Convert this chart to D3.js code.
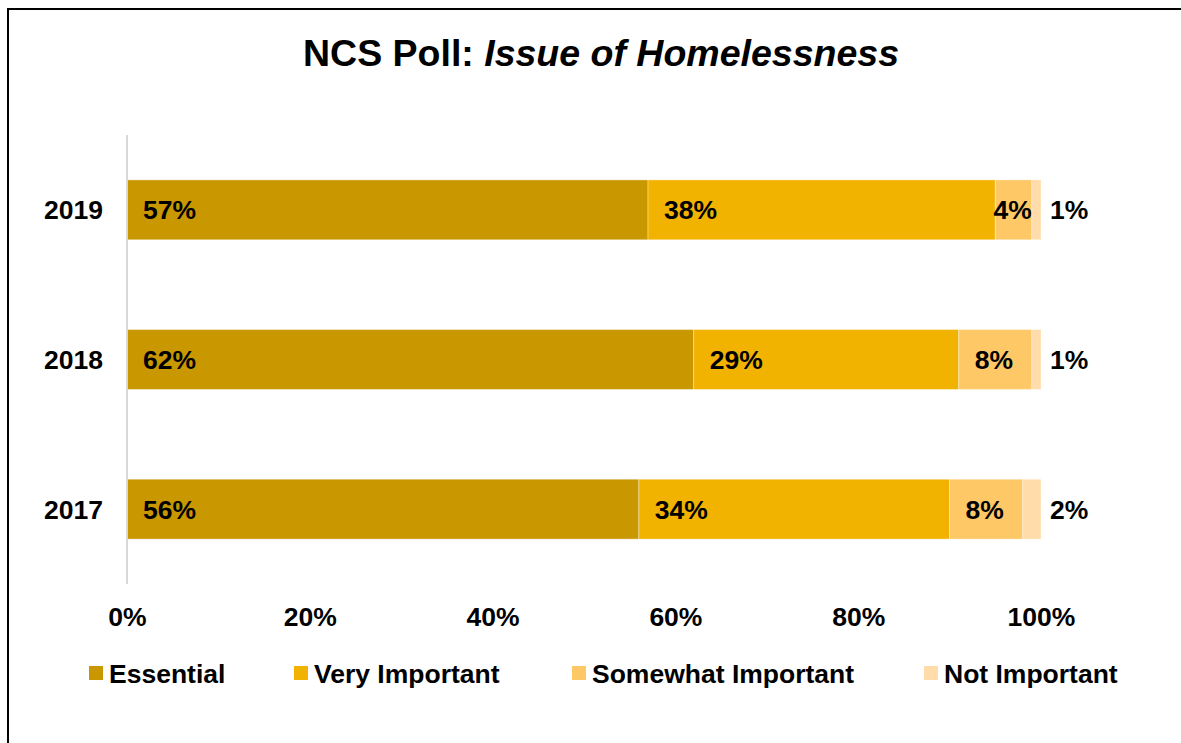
<!DOCTYPE html>
<html>
<head>
<meta charset="utf-8">
<script src="https://cdn.jsdelivr.net/npm/d3@7"></script>
<style>
  body { margin: 0; background: #fff; }
  text { font-family: "Liberation Sans", Arial, sans-serif; font-weight: bold; fill: #000; }
</style>
</head>
<body>
<div id="chart"></div>
<script>
// poll data
var years = ["2019", "2018", "2017"];
var seriesNames = ["Essential", "Very Important", "Somewhat Important", "Not Important"];
var essential = [57, 62, 56];
var veryImportant = [38, 29, 34];
var somewhatImportant = [4, 8, 8];
var notImportant = [1, 1, 2];
var tickValues = [0, 20, 40, 60, 80, 100];

var colors = ["#c99700", "#f1b300", "#fec867", "#ffdcaa"];

var svgWidth = 1181;
var svgHeight = 743;
var fontSize = "26.5px";

var margin = { top: 135, right: 140, bottom: 159, left: 127 };
var width = svgWidth - margin.left - margin.right;   // 914
var height = svgHeight - margin.top - margin.bottom; // 449

var svg = d3.select("#chart")
  .append("svg")
  .attr("width", svgWidth)
  .attr("height", svgHeight);

// outer frame (right and bottom edges fall outside the picture)
svg.append("rect")
  .attr("x", 8)
  .attr("y", 9)
  .attr("width", svgWidth + 20)
  .attr("height", svgHeight + 20)
  .attr("fill", "none")
  .attr("stroke", "#000")
  .attr("stroke-width", 2);

// title
var title = svg.append("text")
  .attr("x", 601)
  .attr("y", 66)
  .attr("text-anchor", "middle")
  .style("font-size", "37.5px");
title.append("tspan").text("NCS Poll: ");
title.append("tspan").style("font-style", "italic").text("Issue of Homelessness");

var chartGroup = svg.append("g")
  .attr("transform", `translate(${margin.left}, ${margin.top})`);

// build table for the stack
var table = years.map(function(y, i) {
  return {
    year: y,
    "Essential": essential[i],
    "Very Important": veryImportant[i],
    "Somewhat Important": somewhatImportant[i],
    "Not Important": notImportant[i]
  };
});

var stacked = d3.stack().keys(seriesNames)(table);

var xScale = d3.scaleLinear()
  .domain([0, 100])
  .range([0, width]);

var yScale = d3.scaleBand()
  .domain(years)
  .range([0, height])
  .paddingInner(0.6)
  .paddingOuter(0.3);

// x tick labels
var bottomAxis = d3.axisBottom(xScale)
  .tickValues(tickValues)
  .tickFormat(d => d + "%")
  .tickSize(0)
  .tickPadding(0);

var xAxisG = chartGroup.append("g")
  .attr("transform", `translate(0, ${height})`)
  .call(bottomAxis);
xAxisG.select(".domain").remove();
xAxisG.selectAll("text")
  .attr("y", 42)
  .attr("dy", 0)
  .style("font-size", fontSize)
  .style("font-family", "'Liberation Sans', Arial, sans-serif");

// y axis: year labels
var leftAxis = d3.axisLeft(yScale)
  .tickSize(0)
  .tickPadding(24);

var yAxisG = chartGroup.append("g")
  .call(leftAxis);
yAxisG.select(".domain").remove();
yAxisG.selectAll("text")
  .style("font-size", fontSize)
  .style("font-family", "'Liberation Sans', Arial, sans-serif")
  .attr("dy", "0.36em");

// bars
var layers = chartGroup.selectAll("g.layer")
  .data(stacked)
  .enter()
  .append("g")
  .attr("class", "layer")
  .attr("fill", (d, i) => colors[i]);

layers.selectAll("rect")
  .data(d => d)
  .enter()
  .append("rect")
  .attr("x", d => xScale(d[0]))
  .attr("y", d => yScale(d.data.year))
  .attr("width", d => xScale(d[1]) - xScale(d[0]))
  .attr("height", yScale.bandwidth())
  .attr("stroke", "#fff")
  .attr("stroke-opacity", 0.35)
  .attr("stroke-width", 1);

// vertical axis line
chartGroup.append("line")
  .attr("x1", 0)
  .attr("x2", 0)
  .attr("y1", 0)
  .attr("y2", height)
  .attr("stroke", "#d9d9d9")
  .attr("stroke-width", 2);

// data labels
layers.each(function(layer, li) {
  d3.select(this).selectAll("text")
    .data(layer)
    .enter()
    .append("text")
    .attr("y", d => yScale(d.data.year) + yScale.bandwidth() / 2)
    .attr("dy", "0.36em")
    .style("font-size", fontSize)
    .text(d => (d[1] - d[0]) + "%")
    .each(function(d) {
      var t = d3.select(this);
      var x0 = xScale(d[0]), x1 = xScale(d[1]);
      var w = this.getComputedTextLength();
      if (li === seriesNames.length - 1) {
        t.attr("x", x1 + 9);
      } else if (x1 - x0 > w + 32) {
        t.attr("x", x0 + 16);
      } else {
        t.attr("x", (x0 + x1) / 2 - 1).attr("text-anchor", "middle");
      }
    });
});

// legend
var legendX = [89, 294, 572, 924];
var legend = svg.append("g")
  .selectAll("g")
  .data(seriesNames)
  .enter()
  .append("g")
  .attr("transform", (d, i) => `translate(${legendX[i]}, 666)`);

legend.append("rect")
  .attr("width", 14)
  .attr("height", 14)
  .attr("fill", (d, i) => colors[i]);

legend.append("text")
  .attr("x", 20)
  .attr("y", 7)
  .attr("dy", "0.36em")
  .style("font-size", fontSize)
  .text(d => d);
</script>
</body>
</html>
